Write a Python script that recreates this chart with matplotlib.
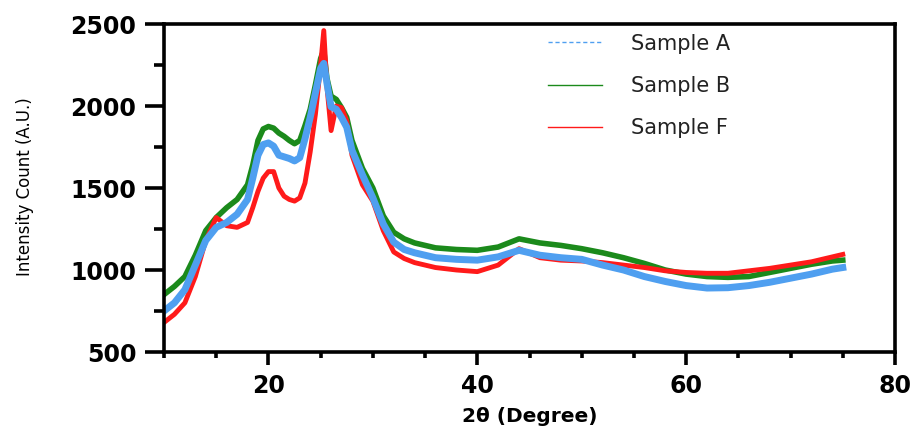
import matplotlib
matplotlib.use("Agg")
import matplotlib.pyplot as plt
from matplotlib.lines import Line2D
from matplotlib.ticker import MultipleLocator

# 2theta positions (degree)
two_theta = [10, 11, 12, 13, 14, 15, 16, 17, 18, 18.5, 19, 19.5, 20, 20.5, 21, 21.5,
             22, 22.5, 23, 23.5, 24, 24.5, 25, 25.3, 25.6, 26, 26.5, 27, 27.5, 28,
             29, 30, 31, 32, 33, 34, 35, 36, 38, 40, 42, 44, 46, 48, 50, 52, 54,
             56, 58, 60, 62, 64, 66, 68, 70, 72, 74, 75]

sample_a = [750, 800, 880, 1030, 1180, 1260, 1290, 1340, 1430, 1560, 1700, 1765, 1775, 1755,
            1700, 1690, 1680, 1665, 1685, 1800, 1930, 2080, 2230, 2260, 2140, 1995, 1980,
            1930, 1870, 1730, 1580, 1440, 1280, 1170, 1125, 1105, 1090, 1075, 1065, 1060,
            1080, 1120, 1090, 1075, 1065, 1030, 1000, 960, 930, 905, 890, 892, 905, 925,
            950, 975, 1005, 1015]

sample_b = [850, 900, 960, 1090, 1240, 1320, 1380, 1430, 1520, 1640, 1790, 1860, 1875, 1865,
            1835, 1815, 1790, 1770, 1790, 1880, 1980, 2130, 2290, 2340, 2170, 2060, 2040,
            1990, 1930, 1790, 1620, 1500, 1330, 1230, 1190, 1165, 1150, 1135, 1125, 1120,
            1140, 1190, 1165, 1150, 1130, 1105, 1075, 1040, 1000, 975, 960, 955, 960, 985,
            1010, 1035, 1055, 1060]

sample_f = [680, 730, 800, 960, 1180, 1320, 1270, 1260, 1290, 1380, 1480, 1560, 1600, 1600,
            1500, 1450, 1430, 1420, 1440, 1530, 1720, 1950, 2250, 2460, 2120, 1850, 2000,
            1990, 1910, 1700, 1520, 1420, 1240, 1110, 1070, 1045, 1030, 1015, 1000, 990,
            1030, 1130, 1075, 1060, 1055, 1045, 1030, 1015, 995, 985, 980, 980, 995, 1010,
            1030, 1050, 1080, 1095]

labels = ["Sample A", "Sample B", "Sample F"]
c_a, c_b, c_f = "#4f9ff0", "#1b8a1b", "#ff1a1a"

plt.rcParams['font.family'] = ['DejaVu Sans']

fig = plt.figure(figsize=(9.14, 4.28), dpi=100)
ax = fig.add_axes([164/914, 1-352/428, (895-164)/914, (352-24)/428])

ax.plot(two_theta, sample_b, color=c_b, lw=4)
ax.plot(two_theta, sample_f, color=c_f, lw=3.5)
ax.plot(two_theta, sample_a, color=c_a, lw=5)

ax.set_xlim(10, 80)
ax.set_ylim(500, 2500)
ax.xaxis.set_major_locator(MultipleLocator(20))
ax.xaxis.set_minor_locator(MultipleLocator(5))
ax.yaxis.set_major_locator(MultipleLocator(500))
ax.yaxis.set_minor_locator(MultipleLocator(250))
ax.set_xticks([20, 40, 60, 80])

for s in ax.spines.values():
    s.set_linewidth(2.6)
ax.tick_params(axis='y', which='major', length=14, width=2.6, pad=6, labelsize=17)
ax.tick_params(axis='y', which='minor', length=7, width=2.6)
ax.tick_params(axis='x', which='major', length=9.5, width=2.6, pad=6, labelsize=17)
ax.tick_params(axis='x', which='minor', length=4.5, width=2.6)
for lab in ax.get_xticklabels() + ax.get_yticklabels():
    lab.set_fontweight('bold')

ax.set_xlabel("2θ (Degree)", fontsize=14.5, fontweight='bold', labelpad=7)
fig.text(25/914, 1-187/428, "Intensity Count (A.U.)", rotation=90, fontsize=12,
         ha='center', va='center')

handles = [Line2D([], [], color=c_a, lw=1, ls=(0, (3, 2))),
           Line2D([], [], color=c_b, lw=1),
           Line2D([], [], color=c_f, lw=1)]
ax.legend(handles, labels, loc='upper left', bbox_to_anchor=(0.5, 1.028), frameon=False,
          fontsize=15, labelspacing=1.07, handlelength=2.6, handletextpad=1.35,
          labelcolor='#222222')

fig.savefig("out.png", dpi=100)
